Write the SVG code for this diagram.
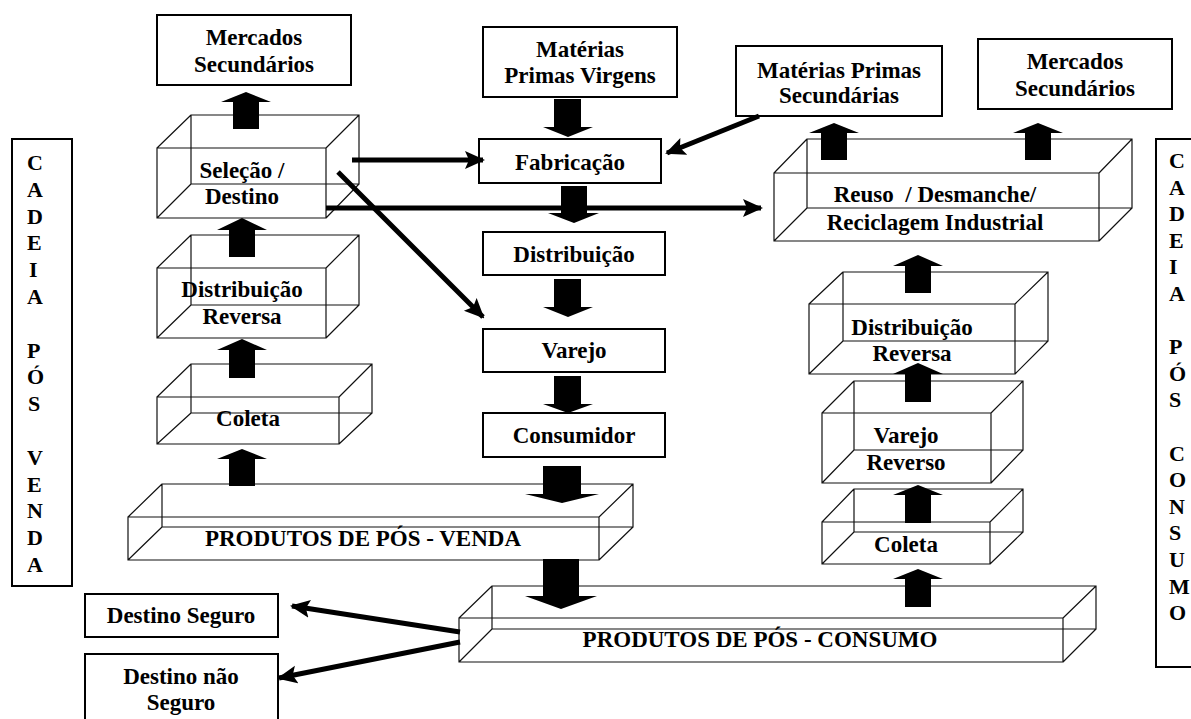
<svg xmlns="http://www.w3.org/2000/svg" width="1191" height="719" viewBox="0 0 1191 719">
  <style>
    .box { fill: #fff; stroke: #000; stroke-width: 2; }
    .cube { fill: none; stroke: #111; stroke-width: 1.2; }
    .lbl { font-family: "Liberation Serif", "Times New Roman", serif; font-weight: bold; font-size: 23px; fill: #000; text-anchor: middle; }
    .vert { font-family: "Liberation Serif", "Times New Roman", serif; font-weight: bold; font-size: 22px; fill: #000; }
    .block { fill: #000; stroke: none; }
    .thin { fill: none; stroke: #000; stroke-width: 5; }
  </style>
  <defs>
    <marker id="head" viewBox="0 0 20 20" refX="18" refY="10" markerWidth="20" markerHeight="20" markerUnits="userSpaceOnUse" orient="auto">
      <path d="M0,1 L20,10 L0,19 L4,10 Z" fill="#000"/>
    </marker>
  </defs>

  <rect width="1191" height="719" fill="#fff"/>

  <!-- side labels -->
  <g id="cadeia-pos-venda">
    <rect class="box" x="12" y="139" width="60" height="447"/>
    <text class="vert" x="27" y="170">
      <tspan x="27" dy="0">C</tspan><tspan x="27" dy="26.8">A</tspan><tspan x="27" dy="26.8">D</tspan><tspan x="27" dy="26.8">E</tspan><tspan x="29" dy="26.8">I</tspan><tspan x="27" dy="26.8">A</tspan><tspan x="27" dy="53.6">P</tspan><tspan x="27" dy="26.8">Ó</tspan><tspan x="28" dy="26.8">S</tspan><tspan x="27" dy="53.6">V</tspan><tspan x="27" dy="26.8">E</tspan><tspan x="27" dy="26.8">N</tspan><tspan x="27" dy="26.8">D</tspan><tspan x="27" dy="26.8">A</tspan>
    </text>
  </g>
  <g id="cadeia-pos-consumo">
    <rect class="box" x="1156" y="139" width="40" height="528"/>
    <text class="vert" x="1169" y="168">
      <tspan x="1169" dy="0">C</tspan><tspan x="1169" dy="26.6">A</tspan><tspan x="1169" dy="26.6">D</tspan><tspan x="1169" dy="26.6">E</tspan><tspan x="1169" dy="26.6">I</tspan><tspan x="1169" dy="26.6">A</tspan><tspan x="1169" dy="53.2">P</tspan><tspan x="1169" dy="26.6">Ó</tspan><tspan x="1169" dy="26.6">S</tspan><tspan x="1169" dy="53.2">C</tspan><tspan x="1169" dy="26.6">O</tspan><tspan x="1169" dy="26.6">N</tspan><tspan x="1169" dy="26.6">S</tspan><tspan x="1169" dy="26.6">U</tspan><tspan x="1169" dy="26.6">M</tspan><tspan x="1169" dy="26.6">O</tspan>
    </text>
  </g>

  <!-- flat boxes -->
  <g id="mercados-esq">
    <rect class="box" x="157" y="15" width="194" height="70"/>
    <text class="lbl" x="254" y="45">Mercados</text>
    <text class="lbl" x="254" y="72">Secundários</text>
  </g>
  <g id="mp-virgens">
    <rect class="box" x="483" y="27" width="194" height="70"/>
    <text class="lbl" x="580" y="57">Matérias</text>
    <text class="lbl" x="580" y="83">Primas Virgens</text>
  </g>
  <g id="mp-secundarias">
    <rect class="box" x="736" y="46" width="206" height="70"/>
    <text class="lbl" x="839" y="78">Matérias Primas</text>
    <text class="lbl" x="839" y="103">Secundárias</text>
  </g>
  <g id="mercados-dir">
    <rect class="box" x="978" y="39" width="194" height="70"/>
    <text class="lbl" x="1075" y="69">Mercados</text>
    <text class="lbl" x="1075" y="96">Secundários</text>
  </g>
  <g id="fabricacao">
    <rect class="box" x="479" y="139" width="182" height="44"/>
    <text class="lbl" x="570" y="170">Fabricação</text>
  </g>
  <g id="distribuicao">
    <rect class="box" x="483" y="232" width="182" height="43"/>
    <text class="lbl" x="574" y="262">Distribuição</text>
  </g>
  <g id="varejo">
    <rect class="box" x="483" y="329" width="182" height="43"/>
    <text class="lbl" x="574" y="358">Varejo</text>
  </g>
  <g id="consumidor">
    <rect class="box" x="483" y="413" width="182" height="44"/>
    <text class="lbl" x="574" y="443">Consumidor</text>
  </g>
  <g id="destino-seguro">
    <rect class="box" x="85" y="594" width="193" height="43"/>
    <text class="lbl" x="181" y="623">Destino Seguro</text>
  </g>
  <g id="destino-nao-seguro">
    <rect class="box" x="85" y="654" width="193" height="70"/>
    <text class="lbl" x="181" y="684">Destino não</text>
    <text class="lbl" x="181" y="710">Seguro</text>
  </g>

  <!-- wireframe cubes -->
  <g id="selecao-destino">
    <path class="cube" d="M157 148H326V218H157Z M191 115H359V184H191Z M157 148L191 115 M326 148L359 115 M326 218L359 184 M157 218L191 184"/>
  </g>
  <g id="dist-reversa-venda">
    <path class="cube" d="M157 268H326V338H157Z M191 235H359V305H191Z M157 268L191 235 M326 268L359 235 M326 338L359 305 M157 338L191 305"/>
  </g>
  <g id="coleta-venda">
    <path class="cube" d="M157 397H339V444H157Z M191 364H372V413H191Z M157 397L191 364 M339 397L372 364 M339 444L372 413 M157 444L191 413"/>
  </g>
  <g id="pos-venda">
    <path class="cube" d="M128 517H599V560H128Z M162 484H633V527H162Z M128 517L162 484 M599 517L633 484 M599 560L633 527 M128 560L162 527"/>
  </g>
  <g id="pos-consumo">
    <path class="cube" d="M459 618H1063V662H459Z M492 586H1096V629H492Z M459 618L492 586 M1063 618L1096 586 M1063 662L1096 629 M459 662L492 629"/>
  </g>
  <g id="reuso">
    <path class="cube" d="M774 173H1099V241H774Z M807 139H1132V208H807Z M774 173L807 139 M1099 173L1132 139 M1099 241L1132 208 M774 241L807 208"/>
  </g>
  <g id="dist-reversa-consumo">
    <path class="cube" d="M809 304H1015V374H809Z M843 272H1048V341H843Z M809 304L843 272 M1015 304L1048 272 M1015 374L1048 341 M809 374L843 341"/>
  </g>
  <g id="varejo-reverso">
    <path class="cube" d="M822 413H991V483H822Z M854 381H1023V450H854Z M822 413L854 381 M991 413L1023 381 M991 483L1023 450 M822 483L854 450"/>
  </g>
  <g id="coleta-consumo">
    <path class="cube" d="M822 522H990V564H822Z M854 489H1023V532H854Z M822 522L854 489 M990 522L1023 489 M990 564L1023 532 M822 564L854 532"/>
  </g>

  <!-- connectors -->
  <g id="connectors">
    <!-- block arrows, left column -->
    <polygon class="block" points="246,92 271,102 259,102 259,129 233,129 233,102 221,102"/>
    <polygon class="block" points="242,218 267,230 255,230 255,257 229,257 229,230 217,230"/>
    <polygon class="block" points="242,339 267,350 255,350 255,378 229,378 229,350 217,350"/>
    <polygon class="block" points="242,449 267,459 255,459 255,486 229,486 229,459 217,459"/>
    <!-- block arrows, right column -->
    <polygon class="block" points="918,569 943,579 931,579 931,607 905,607 905,579 893,579"/>
    <polygon class="block" points="918,485 943,495 931,495 931,523 905,523 905,495 893,495"/>
    <polygon class="block" points="918,363 943,374 931,374 931,402 905,402 905,374 893,374"/>
    <polygon class="block" points="918,255 943,266 931,266 931,293 905,293 905,266 893,266"/>
    <polygon class="block" points="834,123 859,133 847,133 847,160 821,160 821,133 809,133"/>
    <polygon class="block" points="1038,123 1063,133 1051,133 1051,160 1025,160 1025,133 1013,133"/>
    <!-- block arrows, centre column -->
    <polygon class="block" points="554,99 581,99 581,127 593,127 568,137 543,127 554,127"/>
    <polygon class="block" points="561,186 587,186 587,213 599,213 574,223 548,213 561,213"/>
    <polygon class="block" points="554,279 581,279 581,307 593,307 568,317 543,307 554,307"/>
    <polygon class="block" points="554,376 581,376 581,404 593,404 568,413 543,404 554,404"/>
    <polygon class="block" points="543,466 581,466 581,494 599,494 562,503 525,494 543,494"/>
    <polygon class="block" points="543,559 579,559 579,596 597,596 561,609 525,596 543,596"/>
    <!-- line arrows -->
    <line class="thin" x1="352" y1="160" x2="483" y2="160" marker-end="url(#head)"/>
    <line class="thin" x1="326" y1="208" x2="761" y2="208" marker-end="url(#head)"/>
    <line class="thin" x1="338" y1="172" x2="483" y2="317" marker-end="url(#head)"/>
    <line class="thin" x1="759" y1="116" x2="667" y2="153" marker-end="url(#head)"/>
    <line class="thin" x1="460" y1="632" x2="292" y2="606" marker-end="url(#head)"/>
    <line class="thin" x1="460" y1="642" x2="279" y2="678" marker-end="url(#head)"/>
  </g>

  <!-- cube labels -->
  <g id="cube-labels">
    <text class="lbl" x="242" y="178">Seleção /</text>
    <text class="lbl" x="242" y="204">Destino</text>
    <text class="lbl" x="242" y="297">Distribuição</text>
    <text class="lbl" x="242" y="324">Reversa</text>
    <text class="lbl" x="248" y="426">Coleta</text>
    <text class="lbl" x="363" y="546">PRODUTOS DE PÓS - VENDA</text>
    <text class="lbl" x="760" y="647">PRODUTOS DE PÓS - CONSUMO</text>
    <text class="lbl" x="935" y="202" xml:space="preserve">Reuso  / Desmanche/</text>
    <text class="lbl" x="935" y="230">Reciclagem Industrial</text>
    <text class="lbl" x="912" y="335">Distribuição</text>
    <text class="lbl" x="912" y="361">Reversa</text>
    <text class="lbl" x="906" y="443">Varejo</text>
    <text class="lbl" x="906" y="470">Reverso</text>
    <text class="lbl" x="906" y="552">Coleta</text>
  </g>
</svg>
